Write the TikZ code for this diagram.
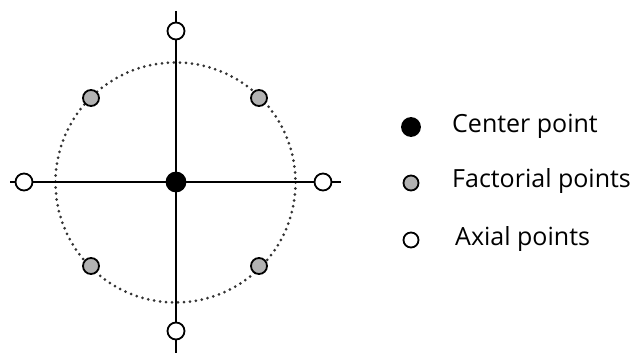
\documentclass[tikz,border=0pt]{standalone}
\usepackage{fontspec}
\setmainfont{Open Sans}
\begin{document}
\begin{tikzpicture}[x=1pt,y=-1pt,
  axis/.style={line width=1.9pt,black},
  pt/.style={circle,draw=black,line width=1.8pt,inner sep=0pt,minimum size=#1},
  ctr/.style={pt=19pt,fill=black},
  fac/.style={pt=16pt,fill=black!30},
  axl/.style={pt=17pt,fill=white},
  lbl/.style={anchor=base west,font=\fontsize{25}{28}\selectfont,inner sep=0pt}]
\useasboundingbox (0,0) rectangle (635,353);
\coordinate (top) at (176,11);
\coordinate (bot) at (176,353);
\coordinate (lft) at (10,182);
\coordinate (rgt) at (341,182);
\draw[line width=3pt,line cap=round,dash pattern=on 0pt off 6pt,black!80] (175.5,182.5) circle (120);
\draw[axis] (top) -- (bot);
\draw[axis] (lft) -- (rgt);
\node[ctr] (c) at (176,182) {};
\node[fac] (f1) at (91,98) {};
\node[fac] (f2) at (259,98) {};
\node[fac] (f3) at (91,266) {};
\node[fac] (f4) at (259,266) {};
\node[axl] (a1) at (176,31) {};
\node[axl] (a2) at (176,331) {};
\node[axl] (a3) at (24,182) {};
\node[axl] (a4) at (323,182) {};
\node[ctr,minimum size=18pt] (lc) at (411,127) {};
\node[fac,minimum size=15pt] (lf) at (411,183) {};
\node[axl,minimum size=15pt] (la) at (411,240) {};
\node[lbl] (tc) at (452,132) {Center point};
\node[lbl] (tf) at (452,187.5) {Factorial points};
\node[lbl] (ta) at (455,245.5) {Axial points};
\end{tikzpicture}
\end{document}
